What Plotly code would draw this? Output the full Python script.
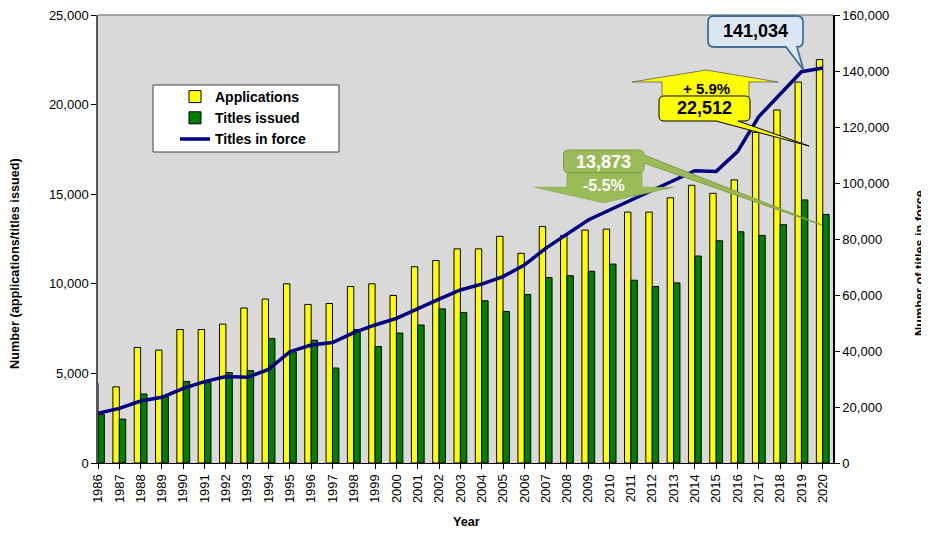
import plotly.graph_objects as go

# ---------------- data ----------------
years = list(range(1986, 2021))
year_labels = [str(y) for y in years]
applications = [4450, 4250, 6450, 6300, 7450, 7450, 7750, 8650, 9150, 10000,
                8850, 8900, 9850, 10000, 9350, 10950, 11300, 11950, 11950, 12650,
                11700, 13200, 12700, 13000, 13050, 14000, 14000, 14800, 15500, 15050,
                15800, 18450, 19700, 21258, 22512]
titles_issued = [2700, 2450, 3850, 3700, 4550, 4500, 5050, 5150, 6950, 6200,
                 6850, 5300, 7450, 6500, 7250, 7700, 8600, 8400, 9050, 8450,
                 9400, 10350, 10450, 10700, 11100, 10200, 9850, 10050, 11550, 12400,
                 12900, 12700, 13300, 14680, 13873]
titles_in_force = [17750, 19500, 22150, 23450, 26650, 29050, 30850, 30600, 33450, 39750,
                   42150, 43000, 46550, 49300, 51650, 55250, 58550, 61800, 63900, 66550,
                   70700, 76650, 81800, 86800, 90350, 93900, 97500, 101050, 104400, 104150,
                   111200, 123700, 131650, 139750, 141034]
left_ticks = [0, 5000, 10000, 15000, 20000, 25000]
right_ticks = [0, 20000, 40000, 60000, 80000, 100000, 120000, 140000, 160000]

# ---------------- layout geometry ----------------
PAGE_W, PAGE_H = 929, 536
OFF = 8                      # default page margin of the html body
W, H = PAGE_W - OFF, PAGE_H - OFF
L, R, T, B = 98, 833, 15, 463  # plot area in page pixels


def px(x):
    return (x - L) / (R - L)


def py(y):
    return (B - y) / (B - T)


def path(points):
    s = ""
    for cmd, pts in points:
        s += cmd + " " + " ".join(f"{px(a):.5f},{py(b):.5f}" for a, b in pts) + " "
    return s + "Z"


def rounded_box(x0, y0, x1, y1, r, tail=None):
    """rounded rectangle, optional tail (side, base_a, base_b, tip)"""
    seq = [("M", [(x0 + r, y0)]), ("L", [(x1 - r, y0)]), ("Q", [(x1, y0), (x1, y0 + r)])]
    if tail and tail[0] == "right":
        _, a, b, tip = tail
        seq += [("L", [(x1, a)]), ("L", [tip]), ("L", [(x1, b)])]
    seq += [("L", [(x1, y1 - r)]), ("Q", [(x1, y1), (x1 - r, y1)])]
    if tail and tail[0] == "bottom":
        _, a, b, tip = tail
        seq += [("L", [(b, y1)]), ("L", [tip]), ("L", [(a, y1)])]
    seq += [("L", [(x0 + r, y1)]), ("Q", [(x0, y1), (x0, y1 - r)]),
            ("L", [(x0, y0 + r)]), ("Q", [(x0, y0), (x0 + r, y0)])]
    return path(seq)


FONT = "Liberation Sans, Arial, sans-serif"

fig = go.Figure()
fig.add_trace(go.Bar(x=years, y=applications, name="Applications",
                     marker=dict(color="#FFFF00", line=dict(color="#000000", width=1))))
fig.add_trace(go.Bar(x=years, y=titles_issued, name="Titles issued",
                     marker=dict(color="#008000", line=dict(color="#000000", width=1))))
fig.add_trace(go.Scatter(x=years, y=titles_in_force, name="Titles in force", yaxis="y2",
                         mode="lines", line=dict(color="#000080", width=3.5)))

x_lo = years[0]
x_hi = years[-1] + 0.48

shapes = []
# top border of plot area
shapes.append(dict(type="line", xref="paper", yref="paper", x0=0, x1=1, y0=1, y1=1,
                   line=dict(color="#8C8C8C", width=1.5)))
# legend box
shapes.append(dict(type="rect", xref="paper", yref="paper", layer="above",
                   x0=px(153), x1=px(339), y0=py(85), y1=py(152),
                   fillcolor="#FFFFFF", line=dict(color="#404040", width=1)))

# green down-arrow callout (titles issued)
shapes.append(dict(type="path", xref="paper", yref="paper", layer="above",
                   path=path([("M", [(567, 160)]), ("L", [(642, 160)]), ("L", [(642, 187.3)]),
                              ("L", [(673.3, 187.3)]), ("L", [(603.5, 202.7)]),
                              ("L", [(535, 187.3)]), ("L", [(567, 187.3)])]),
                   fillcolor="#9BBB59", line=dict(color="#8AA84C", width=0.8)))
shapes.append(dict(type="path", xref="paper", yref="paper", layer="above",
                   path=rounded_box(563.5, 150, 644, 172.7, 5,
                                    tail=("right", 155, 163, (821.7, 225))),
                   fillcolor="#9BBB59", line=dict(color="#7E9A45", width=1)))

# yellow up-arrow callout (applications)
shapes.append(dict(type="path", xref="paper", yref="paper", layer="above",
                   path=path([("M", [(662, 100)]), ("L", [(662, 82)]), ("L", [(632, 82)]),
                              ("L", [(706, 70)]), ("L", [(778, 82)]), ("L", [(749, 82)]),
                              ("L", [(749, 100)])]),
                   fillcolor="#FFFF00", line=dict(color="#5A5A5A", width=0.8)))
shapes.append(dict(type="path", xref="paper", yref="paper", layer="above",
                   path=rounded_box(659, 96, 750, 121, 5,
                                    tail=("bottom", 716, 738, (809, 146))),
                   fillcolor="#FFFF00", line=dict(color="#000000", width=1)))

# blue callout (titles in force)
shapes.append(dict(type="path", xref="paper", yref="paper", layer="above",
                   path=rounded_box(708, 16, 803, 47, 6,
                                    tail=("bottom", 786, 797, (803.5, 70))),
                   fillcolor="#DCE6F2", line=dict(color="#41709C", width=1.8)))

annotations = [
    dict(text="<b>141,034</b>", x=px(755.5), y=py(31.5), font=dict(size=18, color="#000000")),
    dict(text="<b>+ 5.9%</b>", x=px(706), y=py(88), font=dict(size=15, color="#000000")),
    dict(text="<b>22,512</b>", x=px(704.5), y=py(108.5), font=dict(size=18, color="#000000")),
    dict(text="<b>13,873</b>", x=px(603.7), y=py(161.5), font=dict(size=18, color="#FFFFFF")),
    dict(text="<b>-5.5%</b>", x=px(604), y=py(185), font=dict(size=16, color="#FFFFFF")),
    dict(text="<b>Number (applications/titles issued)</b>", x=px(15), y=py(264),
         textangle=-90, font=dict(size=12.7, color="#000000")),
    dict(text="<b>Number of titles in force</b>", x=px(920), y=py(263),
         textangle=-90, font=dict(size=12.7, color="#000000")),
    dict(text="<b>Year</b>", x=px(466), y=py(522), font=dict(size=12.7, color="#000000")),
]
for a in annotations:
    a.update(xref="paper", yref="paper", showarrow=False, xanchor="center", yanchor="middle")
    a["font"]["family"] = FONT

fig.update_layout(
    width=W, height=H,
    margin=dict(l=L - OFF, r=PAGE_W - R, t=T - OFF, b=PAGE_H - B, pad=0, autoexpand=False),
    paper_bgcolor="#FFFFFF", plot_bgcolor="#D9D9D9",
    barmode="group", bargap=0.4, bargroupgap=0,
    font=dict(family=FONT, size=13, color="#000000"),
    showlegend=True,
    legend=dict(x=px(175), y=py(81), xanchor="left", yanchor="top",
                bgcolor="rgba(0,0,0,0)", borderwidth=0,
                font=dict(size=14, color="#000000", family=FONT, weight="bold"),
                itemwidth=30, tracegroupgap=0, traceorder="normal"),
    xaxis=dict(range=[x_lo, x_hi], tickvals=years, ticktext=year_labels, tickangle=-90,
               showgrid=False, zeroline=False, showline=True, linecolor="#000000", linewidth=1,
               ticks="outside", ticklen=5, tickcolor="#000000", automargin=False,
               ticklabeloverflow="allow", tickfont=dict(size=13, color="#000000")),
    yaxis=dict(range=[0, 25000], tickvals=left_ticks, tickformat=",d", automargin=False,
               showgrid=False, zeroline=False, showline=True, linecolor="#555555", linewidth=1.5,
               ticks="outside", ticklen=5, tickcolor="#000000", ticklabeloverflow="allow",
               tickfont=dict(size=13, color="#000000")),
    yaxis2=dict(range=[0, 160000], tickvals=right_ticks, tickformat=",d", overlaying="y",
                side="right", showgrid=False, zeroline=False, showline=True, automargin=False,
                linecolor="#000000", linewidth=1.5, ticks="outside", ticklen=5,
                ticklabeloverflow="allow",
                tickcolor="#000000", tickfont=dict(size=13, color="#000000")),
    shapes=shapes,
    annotations=annotations,
)

fig.write_html("out.html")
